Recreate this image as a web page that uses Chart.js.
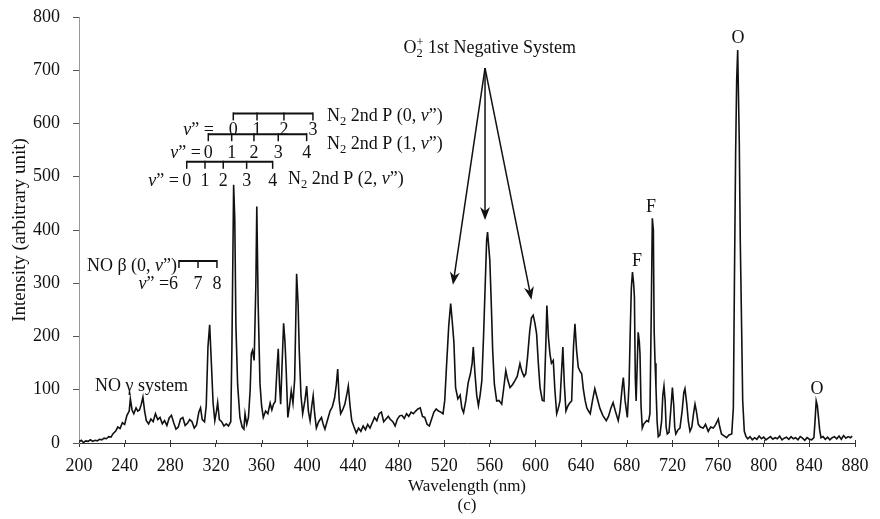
<!DOCTYPE html>
<html>
<head>
<meta charset="utf-8">
<script src="https://cdn.jsdelivr.net/npm/chart.js@4.4.1/dist/chart.umd.min.js"></script>
<style>
  html, body { margin: 0; padding: 0; background: #fff; }
  #wrap { width: 880px; height: 519px; }
</style>
</head>
<body>
<div id="wrap"><canvas id="spectrum"></canvas></div>
<script>
// emission spectrum, wavelength (nm) vs intensity (arbitrary unit)
const wavelengths = [
  200, 202, 204, 206, 208, 210, 212, 214, 216, 218,
  220, 222, 224, 226, 228, 230, 232, 234, 236, 238,
  240, 242, 244, 245, 246.5, 248, 250, 251.5, 253, 254.5,
  256, 257.5, 259, 261, 263, 265, 267, 269, 271, 273,
  275, 277, 279, 281, 283, 285, 287, 289, 291, 293,
  295, 297, 299, 301, 303, 305, 306.5, 308, 310, 311.5,
  313, 314.5, 316, 317.5, 319, 320.5, 321.5, 323, 325, 327,
  329, 331, 333, 334, 335.5, 336.5, 337.5, 339, 341, 343,
  344.5, 345.5, 347, 348.5, 350, 351, 352, 353.5, 355, 355.8,
  357, 358.6, 360, 361.5, 363.5, 365.5, 367.5, 369, 370.5, 372,
  373.5, 374.6, 375.7, 376.7, 378, 379.3, 380.5, 381.5, 383, 384.5,
  386, 387.5, 389, 390.7, 392, 393, 394.5, 396, 398, 399.5,
  401, 402.5, 404, 405.2, 406.5, 408, 410, 412.5, 414, 415.5,
  418, 420, 422, 424, 425.5, 426.7, 428, 429.3, 431, 433,
  435, 436, 437.5, 439, 441, 443, 445, 447, 449, 451,
  453, 455, 457, 459, 461, 463, 465, 467, 469, 471,
  472.5, 475, 477, 479, 481, 483, 485, 487, 489, 491,
  493, 495, 497, 499, 501, 503, 505, 507, 509, 511,
  513, 515, 517, 519, 520.5, 522, 524, 525.7, 527, 528.5,
  530, 532, 534, 535.5, 537, 539, 541, 543, 544.5, 545.5,
  547, 548.5, 550, 551.5, 553, 554.5, 556, 557.2, 558, 559,
  560, 561.3, 562.5, 564, 566, 568, 570.4, 572, 574, 575.5,
  577.7, 580, 582, 584, 586.4, 588, 590, 591.5, 593, 595,
  596.5, 598, 599.5, 601, 602.5, 604, 606, 607.5, 609, 610,
  611.3, 612.7, 614, 615.6, 617, 618.6, 620, 621.5, 623, 624,
  625.3, 626.7, 628.5, 630, 631.7, 633.3, 634.6, 636, 637.5, 639,
  640.5, 642, 643.5, 645, 646.5, 648, 650, 652, 654, 656.5,
  659, 662, 664, 666, 668, 670, 672.5, 674, 676, 677,
  678.5, 680.5, 682, 683, 684, 685, 686, 686.7, 687.5, 688.2,
  689.2, 690, 691, 691.6, 692.5, 693.6, 695, 697.5, 699, 700.3,
  701.5, 702.4, 703.3, 704, 704.8, 705.6, 706.6, 707.6, 709, 710.5,
  711.6, 712.6, 713.6, 714.5, 715.5, 717, 718.5, 720, 721.2, 722,
  723, 725, 726.6, 728.5, 730, 731, 732.5, 734, 735.4, 737,
  738.5, 739.8, 741, 742.7, 744.5, 747, 749, 751.4, 753.5, 755.8,
  758, 760.2, 761.5, 763, 765, 767.5, 769.5, 772, 773.4, 774.3,
  775.4, 776.3, 777.2, 778, 778.6, 779.5, 780.7, 781.6, 783, 784.5,
  786, 788, 790, 792, 794, 796, 798, 800, 802, 804,
  806, 808, 810, 812, 814, 816, 818, 820, 822, 824,
  826, 828, 830, 832, 834, 836, 838, 840, 842, 844,
  845, 846, 847, 848, 849, 850.2, 852, 854, 856, 858,
  860, 862, 864, 866, 868, 870, 872, 874, 876, 877.5
];
const intensity = [
  2, 5, 1, 4, 3, 6, 3, 5, 4, 7,
  6, 9, 8, 12, 11, 18, 22, 30, 27, 38,
  35, 52, 60, 83, 62, 55, 66, 60, 62, 72,
  86, 60, 42, 36, 45, 40, 55, 44, 48, 36,
  42, 33, 47, 52, 38, 26, 30, 45, 48, 33,
  37, 44, 40, 28, 34, 58, 66, 44, 40, 70,
  180, 222, 150, 75, 42, 60, 76, 44, 40, 32,
  36, 32, 40, 180, 485, 420, 220, 110, 48, 30,
  26, 55, 35, 48, 100, 168, 174, 155, 300, 444,
  260, 111, 70, 48, 60, 55, 75, 62, 73, 78,
  140, 177, 110, 73, 150, 225, 190, 140, 48, 70,
  98, 75, 120, 318, 260, 174, 90, 55, 80, 107,
  60, 42, 70, 89, 55, 28, 40, 48, 35, 26,
  45, 60, 68, 85, 110, 139, 80, 55, 62, 73,
  95, 107, 70, 42, 30, 19, 28, 22, 32, 25,
  35, 28, 38, 48, 42, 55, 58, 40, 45, 50,
  45, 40, 32, 45, 51, 52, 46, 55, 50, 58,
  55, 60, 64, 66, 50, 48, 35, 32, 45, 58,
  64, 60, 58, 55, 80, 142, 220, 262, 230, 190,
  104, 83, 90, 65, 57, 80, 113, 130, 150, 180,
  130, 90, 70, 90, 117, 200, 300, 380, 396, 370,
  343, 260, 174, 110, 79, 80, 73, 100, 136, 120,
  104, 110, 117, 125, 149, 135, 125, 130, 160, 211,
  235, 240, 225, 205, 150, 104, 80, 79, 180, 258,
  200, 167, 150, 155, 100, 55, 65, 79, 140, 180,
  110, 60, 70, 75, 79, 180, 224, 175, 142, 135,
  130, 100, 80, 66, 60, 55, 80, 102, 85, 65,
  52, 42, 50, 65, 76, 60, 42, 60, 105, 123,
  80, 48, 110, 205, 290, 321, 300, 274, 120, 79,
  150, 208, 190, 167, 70, 28, 36, 42, 40, 55,
  250, 422, 400, 211, 150, 104, 40, 12, 15, 40,
  90, 107, 80, 30, 17, 20, 60, 104, 70, 30,
  17, 25, 28, 60, 95, 102, 75, 40, 22, 30,
  55, 73, 60, 35, 30, 28, 35, 22, 30, 28,
  35, 45, 30, 17, 14, 10, 15, 17, 66, 293,
  545, 680, 738, 640, 564, 375, 210, 79, 22, 12,
  8, 12, 6, 10, 7, 13, 8, 11, 6, 9,
  12, 7, 10, 8, 13, 6, 9, 11, 7, 12,
  8, 10, 6, 12, 9, 5, 10, 7, 6, 10,
  42, 79, 70, 48, 25, 10, 12, 7, 11, 6,
  10, 12, 8, 13, 7, 14, 9, 12, 10, 13
];
const xTickValues = [200, 240, 280, 320, 360, 400, 440, 480, 520, 560, 600, 640, 680, 720, 760, 800, 840, 880];
const yTickValues = [0, 100, 200, 300, 400, 500, 600, 700, 800];

const SERIF = '"Liberation Serif", "Times New Roman", serif';
const INK = '#111';

// vibrational band brackets, placed in data units (nm, intensity)
const VEQ = [['v', 'i'], ['\u201D =', '']];
const bands = [
  { ticks: [335.2, 356.0, 379.6, 405.0], lineAt: 619, digits: ['0', '1', '2', '3'], digitsAt: 590,
    vLabel: VEQ, vEnd: 318.3,
    title: [['N', ''], ['2', 'sub'], [' 2nd P (0, ', ''], ['v', 'i'], ['\u201D)', '']], titleAt: [417.3, 616] },
  { ticks: [313.3, 333.8, 353.3, 374.6, 399.5], lineAt: 580, digits: ['0', '1', '2', '3', '4'], digitsAt: 547,
    vLabel: VEQ, vEnd: 306.9,
    title: [['N', ''], ['2', 'sub'], [' 2nd P (1, ', ''], ['v', 'i'], ['\u201D)', '']], titleAt: [417.3, 563] },
  { ticks: [294.4, 310.4, 326.4, 346.9, 369.7], lineAt: 528, digits: ['0', '1', '2', '3', '4'], digitsAt: 494,
    vLabel: VEQ, vEnd: 287.6,
    title: [['N', ''], ['2', 'sub'], [' 2nd P (2, ', ''], ['v', 'i'], ['\u201D)', '']], titleAt: [383.1, 498] },
  { ticks: [287.6, 304.3, 320.9], lineAt: 342, digits: ['', '7', '8'], digitsAt: 300,
    vLabel: [['v', 'i'], ['\u201D =6', '']], vEnd: 286.8,
    title: [['NO \u03B2 (0, ', ''], ['v', 'i'], ['\u201D)', '']], titleAt: [285.9, 334], titleAlign: 'right' }
];

const labels = [
  { segs: [['NO \u03B3 system', '']], at: [214, 109], align: 'left' },
  { segs: [['O', ''], ['2', 'sub'], ['+', 'supstack'], [' 1st Negative System', '']], at: [560, 744], align: 'center' },
  { segs: [['O', '']], at: [777.5, 762], align: 'center' },
  { segs: [['O', '']], at: [846.7, 103], align: 'center' },
  { segs: [['F', '']], at: [689, 344], align: 'center' },
  { segs: [['F', '']], at: [701.2, 445], align: 'center' }
];

const arrowApex = [555.8, 704];
const arrowTips = [[527.7, 297], [555.8, 419], [596.5, 269]];

function segFont(kind) {
  if (kind === 'sub' || kind === 'sup' || kind === 'supstack') return `12.5px ${SERIF}`;
  if (kind === 'i') return `italic 18px ${SERIF}`;
  return `18px ${SERIF}`;
}

// draws mixed-style text, y is the vertical middle of the capitals;
// a 'supstack' piece sits directly above the subscript before it
function richText(ctx, segs, x, y, align) {
  const widths = segs.map(([t, k]) => {
    ctx.font = segFont(k);
    return ctx.measureText(t).width;
  });
  let total = 0;
  segs.forEach(([, k], i) => {
    if (k === 'supstack') total += Math.max(0, widths[i] - widths[i - 1]);
    else total += widths[i];
  });
  let cx = align === 'center' ? x - total / 2 : align === 'right' ? x - total : x;
  const base = y + 6;
  ctx.textAlign = 'left';
  ctx.textBaseline = 'alphabetic';
  segs.forEach(([t, k], i) => {
    ctx.font = segFont(k);
    if (k === 'supstack') {
      const start = cx - widths[i - 1];
      ctx.fillText(t, start, base - 7);
      cx = Math.max(cx, start + widths[i]);
      return;
    }
    const dy = k === 'sub' ? 4 : k === 'sup' ? -6 : 0;
    ctx.fillText(t, cx, base + dy);
    cx += widths[i];
  });
}

function arrow(ctx, x0, y0, x1, y1) {
  const ang = Math.atan2(y1 - y0, x1 - x0);
  const len = 13, half = 5, notch = 9;
  const bx = x1 - Math.cos(ang) * notch, by = y1 - Math.sin(ang) * notch;
  ctx.beginPath();
  ctx.moveTo(x0, y0);
  ctx.lineTo(bx, by);
  ctx.stroke();
  const cx = x1 - Math.cos(ang) * len, cy = y1 - Math.sin(ang) * len;
  const nx = -Math.sin(ang) * half, ny = Math.cos(ang) * half;
  ctx.beginPath();
  ctx.moveTo(x1, y1);
  ctx.lineTo(cx + nx, cy + ny);
  ctx.lineTo(bx, by);
  ctx.lineTo(cx - nx, cy - ny);
  ctx.closePath();
  ctx.fill();
}

const annotations = {
  id: 'annotations',
  afterDraw(chart) {
    const { ctx, scales: { x, y } } = chart;
    const px = v => x.getPixelForValue(v);
    const py = v => y.getPixelForValue(v);
    ctx.save();
    ctx.fillStyle = INK;
    ctx.strokeStyle = INK;

    // x ticks cross the axis line
    ctx.lineWidth = 1;
    ctx.strokeStyle = '#333';
    for (const v of xTickValues) {
      const xx = Math.round(px(v)) + 0.5;
      ctx.beginPath();
      ctx.moveTo(xx, y.bottom - 3);
      ctx.lineTo(xx, y.bottom);
      ctx.stroke();
    }
    ctx.strokeStyle = INK;

    for (const b of bands) {
      const ly = py(b.lineAt);
      ctx.lineWidth = 2;
      ctx.beginPath();
      ctx.moveTo(px(b.ticks[0]), ly);
      ctx.lineTo(px(b.ticks[b.ticks.length - 1]), ly);
      ctx.stroke();
      ctx.lineWidth = 1.5;
      for (const t of b.ticks) {
        ctx.beginPath();
        ctx.moveTo(px(t), ly - 1);
        ctx.lineTo(px(t), ly + 7);
        ctx.stroke();
      }
      b.digits.forEach((d, i) => {
        if (d) richText(ctx, [[d, '']], px(b.ticks[i]), py(b.digitsAt), 'center');
      });
      richText(ctx, b.vLabel, px(b.vEnd), py(b.digitsAt), 'right');
      richText(ctx, b.title, px(b.titleAt[0]), py(b.titleAt[1]), b.titleAlign || 'left');
    }

    for (const l of labels) {
      richText(ctx, l.segs, px(l.at[0]), py(l.at[1]), l.align);
    }

    ctx.lineWidth = 1.5;
    for (const [tx, ty] of arrowTips) {
      arrow(ctx, px(arrowApex[0]), py(arrowApex[1]), px(tx), py(ty));
    }
    ctx.restore();
  }
};

// keep the plot box fixed: no extra room reserved for overhanging tick labels
function noLabelPadding(s) {
  s.paddingTop = 0;
  s.paddingBottom = 0;
  s.paddingLeft = 0;
  s.paddingRight = 0;
}

const points = wavelengths.map((w, i) => ({ x: w, y: intensity[i] }));

new Chart(document.getElementById('spectrum'), {
  type: 'line',
  data: {
    datasets: [{
      data: points,
      borderColor: INK,
      borderWidth: 1.6,
      pointRadius: 0,
      tension: 0,
      fill: false
    }]
  },
  options: {
    responsive: true,
    maintainAspectRatio: false,
    animation: false,
    devicePixelRatio: 1,
    layout: { padding: { top: 17, right: 25, bottom: 0, left: 0 } },
    plugins: { legend: { display: false }, tooltip: { enabled: false } },
    scales: {
      x: {
        type: 'linear',
        min: 200,
        max: 880,
        afterBuildTicks: s => { s.ticks = xTickValues.map(v => ({ value: v })); },
        afterFit: s => { s.height = 76; noLabelPadding(s); },
        grid: { drawOnChartArea: false, drawTicks: true, tickLength: 4, tickColor: '#333' },
        border: { display: true, color: '#333', width: 1 },
        ticks: { color: INK, padding: 8, maxRotation: 0, autoSkip: false, font: { family: SERIF, size: 18 } },
        title: {
          display: true,
          text: ['Wavelength (nm)', '(c)'],
          color: INK,
          font: { family: SERIF, size: 17, lineHeight: 19 / 17 },
          padding: { top: 0, bottom: 3.5 }
        }
      },
      y: {
        min: 0,
        max: 800,
        afterBuildTicks: s => { s.ticks = yTickValues.map(v => ({ value: v })); },
        afterFit: s => { s.width = 79; noLabelPadding(s); },
        grid: { drawOnChartArea: false, drawTicks: true, tickLength: 6, tickColor: '#555' },
        border: { display: true, color: '#999', width: 1 },
        ticks: { color: INK, padding: 13, font: { family: SERIF, size: 18 } },
        title: {
          display: true,
          text: 'Intensity (arbitrary unit)',
          color: INK,
          font: { family: SERIF, size: 19, lineHeight: 1.1 },
          padding: { top: 9.5, bottom: 0 }
        }
      }
    }
  },
  plugins: [annotations]
});
</script>
</body>
</html>
